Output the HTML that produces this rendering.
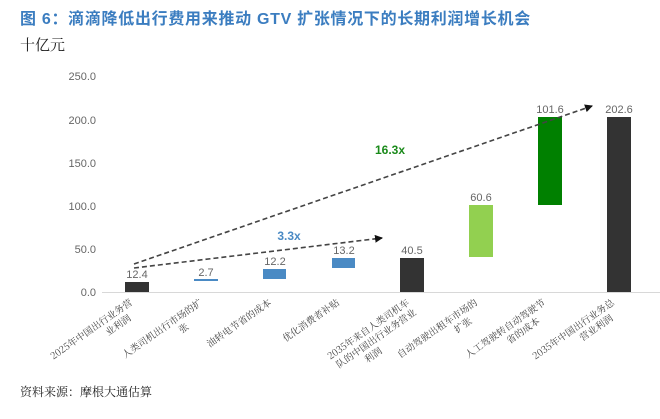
<!DOCTYPE html>
<html><head><meta charset="utf-8"><style>
body{margin:0;background:#fff;width:660px;height:419px;overflow:hidden}
svg{display:block}
</style></head><body>
<svg width="660" height="419" xmlns="http://www.w3.org/2000/svg" font-family="Liberation Sans, Noto Sans CJK SC, sans-serif">
<defs><marker id="ah" markerWidth="8" markerHeight="8" refX="7" refY="4" orient="auto" markerUnits="userSpaceOnUse"><path d="M0,0 L8,4 L0,8 z" fill="#111"/></marker></defs>
<text x="20" y="24" font-size="16" font-weight="bold" fill="#3b7dc0" letter-spacing="0.7" font-family="Liberation Sans, Noto Sans CJK SC, sans-serif">图 6：滴滴降低出行费用来推动 GTV 扩张情况下的长期利润增长机会</text>
<text x="20" y="50" font-size="15" fill="#222" font-family="Noto Serif CJK SC, serif">十亿元</text>
<g font-size="11" fill="#666" text-anchor="end">
<text x="96" y="80">250.0</text><text x="96" y="124">200.0</text><text x="96" y="167">150.0</text>
<text x="96" y="210">100.0</text><text x="96" y="253">50.0</text><text x="96" y="296">0.0</text>
</g>
<line x1="102" y1="292.5" x2="660" y2="292.5" stroke="#d8d8d8"/>
<rect x="125" y="282" width="24" height="10" fill="#333"/>
<rect x="194" y="279" width="24" height="2" fill="#4a8ac4"/>
<rect x="263" y="269" width="23" height="10" fill="#4a8ac4"/>
<rect x="332" y="258" width="23" height="10" fill="#4a8ac4"/>
<rect x="400" y="258" width="24" height="34" fill="#333"/>
<rect x="469" y="205" width="24" height="52" fill="#92d050"/>
<rect x="538" y="117" width="24" height="88" fill="#008000"/>
<rect x="607" y="117" width="24" height="175" fill="#333"/>
<g font-size="11" fill="#666" text-anchor="middle">
<text x="137" y="278">12.4</text><text x="206" y="276">2.7</text><text x="275" y="265">12.2</text>
<text x="344" y="254">13.2</text><text x="412" y="254">40.5</text><text x="481" y="201">60.6</text>
<text x="550" y="113">101.6</text><text x="619" y="113">202.6</text>
</g>
<line x1="134" y1="268" x2="382" y2="238" stroke="#444" stroke-width="1.6" stroke-dasharray="5,3" marker-end="url(#ah)"/>
<line x1="134" y1="264" x2="592" y2="106" stroke="#444" stroke-width="1.6" stroke-dasharray="5,3" marker-end="url(#ah)"/>
<text x="289" y="240" font-size="12" font-weight="bold" fill="#4a8ac4" text-anchor="middle">3.3x</text>
<text x="390" y="154" font-size="12" font-weight="bold" fill="#1a8a1a" text-anchor="middle">16.3x</text>
<g font-size="9.5" fill="#444" font-family="Noto Serif CJK SC, serif" text-anchor="end">
<g transform="translate(133,304) rotate(-35)"><text>2025年中国出行业务营</text><text x="0" y="12" dx="-10">业利润</text></g>
<g transform="translate(203,304) rotate(-35)"><text>人类司机出行市场的扩</text><text y="12" dx="-25">张</text></g>
<g transform="translate(272,304) rotate(-35)"><text>油转电节省的成本</text></g>
<g transform="translate(340,304) rotate(-35)"><text>优化消费者补贴</text></g>
<g transform="translate(410,304) rotate(-35)"><text>2035年来自人类司机车</text><text y="12">队的中国出行业务营业</text><text y="24" dx="-50">利润</text></g>
<g transform="translate(478,304) rotate(-35)"><text>自动驾驶出租车市场的</text><text y="12" dx="-15">扩张</text></g>
<g transform="translate(546,304) rotate(-35)"><text>人工驾驶转自动驾驶节</text><text y="12" dx="-15">省的成本</text></g>
<g transform="translate(615,304) rotate(-35)"><text>2035年中国出行业务总</text><text y="12" dx="-10">营业利润</text></g>
</g>
<text x="20" y="396" font-size="12" fill="#222" font-family="Noto Serif CJK SC, serif">资料来源：摩根大通估算</text>
</svg>
</body></html>
